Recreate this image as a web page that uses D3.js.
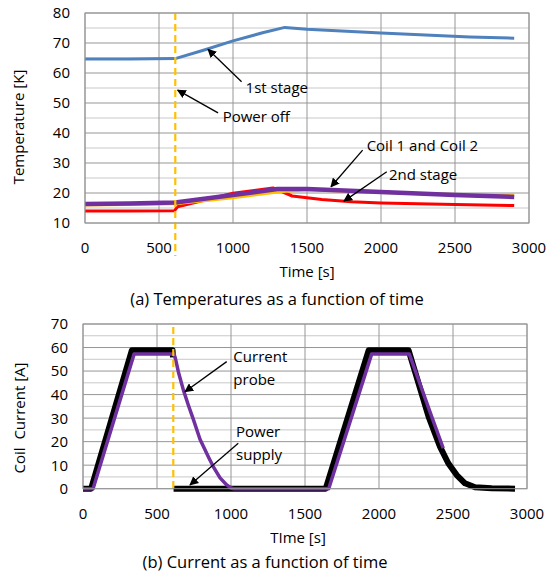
<!DOCTYPE html>
<html>
<head>
<meta charset="utf-8">
<script src="https://cdn.jsdelivr.net/npm/d3@7"></script>
<style>
  body { margin: 0; background: #fff; }
  text { font-family: "Open Sans", sans-serif; fill: #000; }
</style>
</head>
<body>
<div class="canvas"></div>
<script>
// ---- data ----
// (a) temperatures
const stage1Time = [0, 300, 610, 800, 1000, 1200, 1350, 1500, 1800, 2000, 2300, 2600, 2900];
const stage1Temp = [64.7, 64.7, 64.8, 67.6, 70.7, 73.4, 75.2, 74.6, 73.8, 73.3, 72.7, 72.0, 71.6];
const coilTime = [0, 300, 610, 1000, 1300, 1500, 2000, 2500, 2900];
const coil1Temp = [16.0, 16.2, 16.4, 18.4, 20.3, 21.1, 20.2, 19.5, 19.4];
const coil2Temp = [16.3, 16.5, 16.8, 19.3, 21.3, 21.3, 20.3, 19.3, 18.7];
const stage2Time = [0, 300, 605, 625, 1000, 1270, 1400, 1600, 1800, 2000, 2500, 2900];
const stage2Temp = [14.0, 14.0, 14.1, 15.4, 19.9, 21.7, 19.0, 17.8, 17.1, 16.7, 16.2, 15.8];

// (b) currents, null = gap in the record
const supplyTime = [0, 55, 330, 605, 608, 610, 612, 1640, 1930, 2200, 2335, 2412, 2468, 2525, 2581, 2649, 2761, 2919];
const supplyCurrent = [0, 0, 58.8, 58.8, 55.8, null, 0, 0, 58.8, 58.8, 30.6, 17.9, 10.8, 5.8, 2.3, 0.6, 0.2, 0];
const probeTime = [0, 68, 345, 615, 624, 645, 678, 712, 745, 791, 813, 850, 880, 926, 971, 1000, 1020, 1660, 1950, 2205, 2356, 2434];
const probeCurrent = [0, 0, 57.2, 57.2, 55.4, 49.5, 42.0, 35.5, 29.6, 20.9, 18.0, 13.2, 9.4, 4.6, 1.6, 0.3, 0, 0, 57.2, 57.2, 30.6, 17.2];

const powerOffTime = 610;

// ticks
const timeTicks = [0, 500, 1000, 1500, 2000, 2500, 3000];
const tempTicks = [10, 20, 30, 40, 50, 60, 70, 80];
const currentTicks = [0, 10, 20, 30, 40, 50, 60, 70];

// annotations: text lines, text anchor point, arrow start, arrow head (data coords)
const tempNotes = [
  { lines: ["1st stage"], at: [1085, 55.3], from: [1058, 57.1], to: [831, 67.9] },
  { lines: ["Power off"], at: [930, 45.4], from: [899, 46.7], to: [626, 54.3] },
  { lines: ["Coil 1 and Coil 2"], at: [1903, 35.9], from: [1876, 34.3], to: [1662, 22.1] },
  { lines: ["2nd stage"], at: [2054, 26.0], from: [2039, 27.1], to: [1750, 17.3] },
];
const currentNotes = [
  { lines: ["Current", "probe"], at: [1016, 56.1], from: [971, 54], to: [689, 41.2] },
  { lines: ["Power", "supply"], at: [1034, 24.2], from: [1049, 19.3], to: [723, 1.6] },
];

// ---- layout ----
const w = 549;
const h = 575;

const svg = d3.select(".canvas").append("svg").attr("width", w).attr("height", h);

svg.append("defs")
  .append("marker")
  .attr("id", "head")
  .attr("viewBox", "0 0 10 10")
  .attr("refX", 9)
  .attr("refY", 5)
  .attr("markerWidth", 9)
  .attr("markerHeight", 9)
  .attr("markerUnits", "userSpaceOnUse")
  .attr("orient", "auto")
  .append("path")
  .attr("d", "M0,0 L10,5 L0,10 z")
  .attr("fill", "#000");

function panel(opts) {
  const x = d3.scaleLinear().domain([0, 3000]).range([opts.left, opts.right]);
  const y = d3.scaleLinear().domain(opts.yDomain).range([opts.bottom, opts.top]);
  const g = svg.append("g");

  // minor horizontal grid (every 5)
  const minor = d3.range(opts.yDomain[0] + 5, opts.yDomain[1], 10);
  g.selectAll(".minor")
    .data(minor)
    .enter()
    .append("line")
    .attr("x1", opts.left).attr("x2", opts.right)
    .attr("y1", (d) => y(d)).attr("y2", (d) => y(d))
    .attr("stroke", "#c8c8c8");

  // major grid
  g.selectAll(".hmajor")
    .data(opts.yTicks)
    .enter()
    .append("line")
    .attr("x1", opts.left).attr("x2", opts.right)
    .attr("y1", (d) => y(d)).attr("y2", (d) => y(d))
    .attr("stroke", "#969696");
  g.selectAll(".vmajor")
    .data(timeTicks)
    .enter()
    .append("line")
    .attr("x1", (d) => x(d)).attr("x2", (d) => x(d))
    .attr("y1", opts.top).attr("y2", opts.bottom)
    .attr("stroke", "#969696");

  // tick labels
  g.selectAll(".ylab")
    .data(opts.yTicks)
    .enter()
    .append("text")
    .attr("x", opts.left - 15)
    .attr("y", (d) => y(d))
    .attr("dy", "0.36em")
    .attr("text-anchor", "end")
    .style("font-size", "15px")
    .text((d) => d);
  g.selectAll(".xlab")
    .data(timeTicks)
    .enter()
    .append("text")
    .attr("x", (d) => x(d))
    .attr("y", opts.bottom + 25)
    .attr("dy", "0.36em")
    .attr("text-anchor", "middle")
    .style("font-size", "15px")
    .text((d) => d);

  // axis titles and caption
  g.append("text")
    .attr("transform", `translate(${opts.yTitleX}, ${opts.yTitleY}) rotate(-90)`)
    .attr("dy", "0.36em")
    .attr("text-anchor", "middle")
    .style("font-size", "15px")
    .style("white-space", "pre")
    .text(opts.yTitle);
  g.append("text")
    .attr("x", opts.xTitleX)
    .attr("y", opts.bottom + 49)
    .attr("dy", "0.36em")
    .attr("text-anchor", "middle")
    .style("font-size", "15px")
    .text(opts.xTitle);
  g.append("text")
    .attr("x", opts.captionX)
    .attr("y", opts.bottom + opts.captionDy)
    .attr("dy", "0.36em")
    .attr("text-anchor", "middle")
    .style("font-size", "16.5px")
    .text(opts.caption);

  // series
  opts.series.forEach((s) => {
    const line = d3.line()
      .defined((d) => d !== null)
      .x((d, i) => x(s.t[i]))
      .y((d) => y(d));
    g.append("path")
      .attr("d", line(s.v))
      .attr("fill", "none")
      .attr("stroke", s.color)
      .attr("stroke-width", s.width)
      .attr("stroke-linejoin", "round");
  });

  // power off marker
  g.append("line")
    .attr("x1", x(powerOffTime)).attr("x2", x(powerOffTime))
    .attr("y1", opts.top + opts.dashTop).attr("y2", opts.bottom + opts.dashBottom)
    .attr("stroke", "#FFC000")
    .attr("stroke-width", 2.2)
    .attr("stroke-dasharray", "7,4");

  // annotations
  opts.notes.forEach((n) => {
    g.append("line")
      .attr("x1", x(n.from[0])).attr("y1", y(n.from[1]))
      .attr("x2", x(n.to[0])).attr("y2", y(n.to[1]))
      .attr("stroke", "#000")
      .attr("stroke-width", 1.3)
      .attr("marker-end", "url(#head)");
    n.lines.forEach((l, i) => {
      g.append("text")
        .attr("x", x(n.at[0]))
        .attr("y", y(n.at[1]) + i * 23)
        .attr("dy", "0.36em")
        .style("font-size", "15px")
        .text(l);
    });
  });

  // plot border
  g.append("rect")
    .attr("x", opts.left).attr("y", opts.top)
    .attr("width", opts.right - opts.left).attr("height", opts.bottom - opts.top)
    .attr("fill", "none")
    .attr("stroke", "#969696");
}

panel({
  left: 85, right: 529, top: 13, bottom: 223,
  yDomain: [10, 80], yTicks: tempTicks,
  yTitle: "Temperature [K]", yTitleX: 19, yTitleY: 127,
  xTitle: "Time [s]", xTitleX: 307,
  caption: "(a) Temperatures as a function of time", captionX: 277, captionDy: 76,
  dashTop: 0, dashBottom: 33,
  series: [
    { t: stage1Time, v: stage1Temp, color: "#4F81BD", width: 3 },
    { t: stage2Time, v: stage2Temp, color: "#FF0000", width: 3 },
    { t: coilTime, v: coil1Temp, color: "#FFC000", width: 3 },
    { t: coilTime, v: coil2Temp, color: "#7030A0", width: 4.5 },
  ],
  notes: tempNotes,
});

panel({
  left: 83, right: 527, top: 324, bottom: 488.7,
  yDomain: [0, 70], yTicks: currentTicks,
  yTitle: "Coil  Current [A]", yTitleX: 20, yTitleY: 418,
  xTitle: "TIme [s]", xTitleX: 298,
  caption: "(b) Current as a function of time", captionX: 265, captionDy: 73,
  dashTop: 3, dashBottom: 1,
  series: [
    { t: supplyTime, v: supplyCurrent, color: "#000", width: 6 },
    { t: probeTime, v: probeCurrent, color: "#7030A0", width: 3.5 },
  ],
  notes: currentNotes,
});
</script>
</body>
</html>
